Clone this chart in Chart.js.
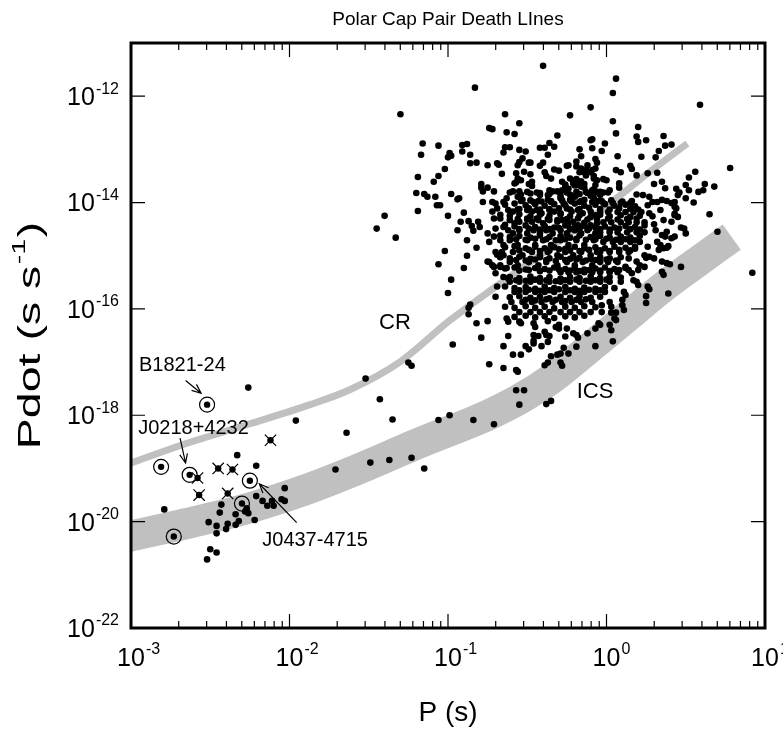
<!DOCTYPE html>
<html>
<head>
<meta charset="utf-8">
<script src="https://cdn.jsdelivr.net/npm/chart.js@4.4.0/dist/chart.umd.min.js"></script>
<style>
  html, body { margin: 0; padding: 0; background: #fff; }
</style>
</head>
<body>
<canvas id="ppdot" width="783" height="734"></canvas>
<script>
// values, stored as [log10 P, log10 Pdot]
const lowPeriodField = [
  [-2.26,-17.48],[-1.96,-18.10],[-2.33,-18.75],[-2.21,-18.95],[-2.79,-19.77],[-2.43,-19.68],[-2.21,-19.52],[-2.17,-19.61],
  [-2.11,-19.61],[-2.10,-19.70],[-2.14,-19.70],[-2.05,-19.58],[-2.03,-19.61],[-2.03,-19.37],[-2.27,-19.75],[-2.26,-19.84],
  [-2.28,-19.81],[-2.44,-19.83],[-2.34,-19.86],[-2.32,-19.99],[-2.22,-19.97],[-2.51,-20.01],[-2.46,-20.08],[-2.39,-20.04],
  [-2.34,-20.06],[-2.40,-20.14],[-2.46,-20.22],[-2.50,-20.52],[-2.46,-20.58],[-2.52,-20.71]
];

const middleField = [
  [-1.40,-14.25],[-1.45,-14.49],[-1.33,-14.66],[-1.30,-12.34],[-1.25,-17.01],[-1.23,-17.07],[-1.52,-17.31],[-1.43,-17.70],
  [-1.35,-18.08],[-1.64,-18.33],[-1.06,-18.09],[-0.99,-18.00],[-1.71,-19.02],[-1.49,-18.89],[-1.37,-18.84],[-1.23,-18.80],
  [-1.15,-19.00],[-1.02,-14.91],[-1.06,-15.16],[-0.98,-15.45],[-1.00,-15.70],[-1.19,-14.16],[-1.20,-13.82],[-1.15,-13.84],
  [-1.13,-13.89],[-1.08,-13.89],[-1.19,-13.52],[-1.17,-13.10],[-1.16,-12.89],[-1.06,-12.93],[-1.06,-13.50],[-1.09,-13.61],
  [-1.02,-13.37],[-0.99,-13.07],[-0.98,-13.12],[-1.00,-13.15],[-1.07,-14.05],[-1.05,-14.05],[-1.00,-14.25],[-0.94,-13.94],
  [-0.91,-12.92],[-0.88,-12.90],[-0.91,-13.04],[-0.86,-13.10]
];

const upperCluster = [
  [-0.83,-11.84],[-0.40,-11.43],[-0.64,-12.34],[-0.55,-12.51],[-0.74,-12.60],[-0.72,-12.62],[-0.63,-12.68],[-0.58,-12.71],
  [-0.31,-12.74],[-0.64,-12.96],[-0.61,-12.96],[-0.42,-12.97],[-0.39,-12.97],[-0.36,-12.88],[-0.33,-12.95],[-0.65,-13.06],
  [-0.55,-13.01],[-0.51,-13.04],[-0.37,-13.10],[-0.53,-13.17],[-0.86,-13.26],[-0.82,-13.25],[-0.75,-13.30],[-0.69,-13.26],
  [-0.68,-13.29],[-0.56,-13.30],[-0.55,-13.24],[-0.49,-13.25],[-0.48,-13.25],[-0.42,-13.31],[-0.40,-13.25],[-0.33,-13.38],
  [-0.30,-13.40],[-0.66,-13.46],[-0.57,-13.45],[-0.56,-13.55],[-0.57,-13.62],[-0.52,-13.42],[-0.48,-13.47],[-0.39,-13.43],
  [-0.38,-13.50],[-0.47,-13.61],[-0.49,-13.65],[-0.79,-13.65],[-0.79,-13.72],[-0.78,-13.79],[-0.75,-13.72],[-0.71,-13.79],
  [-0.98,-13.84],[-0.93,-13.92],[-0.61,-13.81],[-0.59,-13.79],[-0.55,-13.79],[-0.54,-13.85],[-0.48,-13.83],[-0.42,-13.82],
  [-0.37,-13.86],[-0.34,-13.79],
  [0.06,-11.67],[0.04,-11.94],[0.59,-12.16],[-0.10,-12.21],[-0.23,-12.36],[0.04,-12.47],[0.20,-12.58],[0.06,-12.70],
  [0.19,-12.76],[0.20,-12.86],[0.25,-12.83],[0.36,-12.75],[-0.09,-12.81],[-0.01,-12.89],[0.37,-12.93],[0.41,-12.91],
  [-0.17,-13.00],[-0.03,-13.03],[0.33,-13.03],[-0.16,-13.13],[-0.07,-13.18],[0.07,-13.13],[0.22,-13.14],[0.31,-13.15],
  [0.78,-13.35],[-0.25,-13.31],[-0.24,-13.30],[-0.19,-13.23],[-0.19,-13.32],[-0.12,-13.30],[-0.13,-13.39],[-0.07,-13.36],
  [0.06,-13.39],[0.09,-13.43],[0.15,-13.31],[0.16,-13.37],[0.26,-13.45],[0.32,-13.44],[0.19,-13.49],[0.56,-13.42],
  [0.52,-13.53],[-0.17,-13.43],[-0.15,-13.42],[-0.10,-13.43],[-0.08,-13.50],[-0.19,-13.56],[-0.16,-13.60],[-0.02,-13.56],
  [0.00,-13.58],[0.08,-13.64],[0.08,-13.72],[0.30,-13.65],[0.35,-13.61],[0.37,-13.73],[0.50,-13.67],[0.62,-13.65],
  [0.68,-13.70],[0.44,-13.74],[0.46,-13.81],[0.45,-13.86],[0.52,-13.77],[0.58,-13.80],[0.61,-13.77],[-0.28,-13.61],
  [-0.26,-13.69],[-0.24,-13.74],[-0.28,-13.77],[-0.14,-13.72],[-0.13,-13.80],[-0.08,-13.75],[-0.08,-13.83],[-0.04,-13.80],
  [-0.02,-13.81],[0.02,-13.77],[0.19,-13.85],[0.23,-13.86],[0.27,-13.89],[-0.19,-13.86],[-0.20,-13.89],
  [-0.10,-12.83],[-0.09,-12.98],[-0.16,-13.36],[-0.09,-13.39],[-0.06,-13.25],[-0.13,-13.49],[-0.35,-13.55],[-0.23,-13.55],
  [-0.21,-13.58],[-0.08,-13.55],[-0.06,-13.58],[-0.58,-13.64],[-0.54,-13.58],[-0.47,-13.69],[-0.36,-13.77],[-0.21,-13.64],
  [-0.18,-13.67],[-0.16,-13.70],[-0.09,-13.77]
];

const denseCore = [
  [-0.63,-13.92],[-0.65,-13.99],[-0.56,-13.89],[-0.53,-13.95],[-0.46,-13.99],[-0.43,-13.97],[-0.37,-13.95],[-0.35,-13.99],
  [-0.29,-13.92],[-0.27,-14.02],[-0.23,-13.95],[-0.17,-13.99],[-0.14,-13.95],[-0.08,-13.92],[-0.05,-13.97],
  [-0.70,-14.02],[-0.69,-14.11],[-0.72,-14.17],[-0.62,-14.14],[-0.59,-14.17],[-0.56,-14.13],[-0.50,-14.14],[-0.47,-14.17],
  [-0.44,-14.14],[-0.41,-14.20],[-0.36,-14.14],[-0.33,-14.17],[-0.29,-14.20],[-0.25,-14.11],[-0.22,-14.17],[-0.18,-14.14],
  [-0.15,-14.20],[-0.10,-14.17],[-0.07,-14.24],
  [-0.71,-14.30],[-0.65,-14.46],[-0.61,-14.33],[-0.58,-14.39],[-0.55,-14.36],[-0.50,-14.30],[-0.47,-14.36],[-0.43,-14.33],
  [-0.40,-14.39],[-0.36,-14.33],[-0.31,-14.36],[-0.28,-14.33],[-0.24,-14.39],[-0.21,-14.36],[-0.18,-14.43],[-0.14,-14.38],
  [-0.10,-14.43],[-0.06,-14.39],
  [-0.62,-14.52],[-0.59,-14.58],[-0.55,-14.52],[-0.50,-14.58],[-0.46,-14.52],[-0.42,-14.58],[-0.38,-14.52],[-0.34,-14.58],
  [-0.29,-14.52],[-0.25,-14.58],[-0.20,-14.52],[-0.16,-14.58],[-0.12,-14.52],[-0.07,-14.58],[-0.88,-14.71],
  [-0.67,-14.71],[-0.65,-14.80],[-0.61,-14.71],[-0.56,-14.80],[-0.50,-14.71],[-0.45,-14.80],[-0.40,-14.71],[-0.35,-14.80],
  [-0.29,-14.71],[-0.24,-14.80],[-0.19,-14.71],[-0.14,-14.80],[-0.08,-14.71],
  [-0.70,-14.93],[-0.65,-14.99],[-0.59,-14.93],[-0.53,-14.99],[-0.47,-14.93],[-0.42,-14.99],[-0.37,-14.93],[-0.31,-14.99],
  [-0.26,-14.93],[-0.21,-14.99],[-0.16,-14.93],[-0.10,-14.99],[-0.06,-14.93],
  [-0.74,-15.12],[-0.67,-15.18],[-0.61,-15.12],[-0.56,-15.18],[-0.49,-15.12],[-0.43,-15.18],[-0.38,-15.12],[-0.31,-15.18],
  [-0.25,-15.12],[-0.20,-15.18],[-0.15,-15.12],[-0.09,-15.18],
  [-0.02,-14.01],[0.04,-14.01],[0.09,-14.01],[0.15,-14.01],
  [-0.04,-14.18],[0.01,-14.18],[0.07,-14.18],[0.12,-14.18],[0.17,-14.18],[0.22,-14.18],
  [-0.02,-14.37],[0.03,-14.37],[0.09,-14.37],[0.14,-14.37],[0.19,-14.37],[0.24,-14.37],
  [-0.04,-14.56],[0.02,-14.56],[0.07,-14.56],[0.13,-14.56],[0.19,-14.56],[0.24,-14.56],
  [-0.02,-14.74],[0.04,-14.74],[0.09,-14.74],[0.15,-14.74],[0.21,-14.74],
  [-0.04,-14.93],[0.02,-14.93],[0.08,-14.93],[0.14,-14.93],
  [-0.04,-15.12],[0.01,-15.12],[0.07,-15.12],[-0.04,-15.31],[0.02,-15.31],[0.07,-15.31],
  [-0.29,-15.31],[-0.24,-15.31],[-0.19,-15.31],[-0.14,-15.31],[-0.09,-15.31],
  [-0.61,-15.49],[-0.55,-15.49],[-0.48,-15.49],[-0.42,-15.49],[-0.36,-15.49],[-0.29,-15.49],[-0.23,-15.49],[-0.17,-15.49],
  [-0.10,-15.49],[-0.04,-15.49],[0.02,-15.49],[0.09,-15.49],
  [-0.58,-15.68],[-0.51,-15.68],[-0.45,-15.68],[-0.39,-15.68],[-0.33,-15.68],[-0.26,-15.68],[-0.20,-15.68],[-0.14,-15.68],
  [-0.07,-15.68],[-0.01,-15.68],
  [-0.60,-15.87],[-0.53,-15.87],[-0.47,-15.87],[-0.41,-15.87],[-0.34,-15.87],[-0.28,-15.87],[-0.22,-15.87],[-0.16,-15.87],
  [-0.09,-15.87],
  [-0.55,-16.06],[-0.48,-16.06],[-0.42,-16.06],[-0.36,-16.06],[-0.29,-16.06],[-0.23,-16.06],[-0.17,-16.06],[-0.10,-16.06],
  [-0.03,-16.06]
];

// the solid black middle of the cloud, where single dots cannot be told apart
const coreInfill = [
  [-0.26,-13.66],[-0.20,-13.68],[-0.14,-13.65],[-0.07,-13.67],
  [-0.42,-13.86],[-0.36,-13.84],[-0.29,-13.87],[-0.23,-13.85],[-0.17,-13.84],[-0.10,-13.87],[-0.04,-13.86],
  [-0.64,-14.04],[-0.58,-14.02],[-0.51,-14.05],[-0.45,-14.03],[-0.39,-14.06],[-0.33,-14.03],[-0.26,-14.05],[-0.20,-14.02],
  [-0.14,-14.06],[-0.07,-14.04],[-0.01,-14.03],[0.05,-14.06],[0.12,-14.04],[0.18,-14.07],
  [-0.67,-14.23],[-0.61,-14.25],[-0.55,-14.22],[-0.48,-14.26],[-0.42,-14.23],[-0.36,-14.25],[-0.29,-14.22],[-0.23,-14.26],
  [-0.17,-14.24],[-0.10,-14.27],[-0.04,-14.23],[0.02,-14.26],[0.09,-14.24],[0.15,-14.27],[0.21,-14.25],
  [-0.64,-14.42],[-0.58,-14.45],[-0.51,-14.43],[-0.45,-14.46],[-0.39,-14.44],[-0.33,-14.47],[-0.26,-14.43],[-0.20,-14.46],
  [-0.14,-14.44],[-0.07,-14.47],[-0.01,-14.45],[0.05,-14.47],[0.12,-14.44],[0.18,-14.46],[0.24,-14.43],
  [-0.67,-14.62],[-0.61,-14.65],[-0.55,-14.63],[-0.48,-14.66],[-0.42,-14.62],[-0.36,-14.65],[-0.29,-14.63],[-0.23,-14.66],
  [-0.17,-14.62],[-0.10,-14.65],[-0.04,-14.63],[0.02,-14.66],[0.09,-14.64],[0.15,-14.66],[0.21,-14.63],
  [-0.64,-14.84],[-0.58,-14.82],[-0.51,-14.86],[-0.45,-14.83],[-0.39,-14.86],[-0.33,-14.84],[-0.26,-14.87],[-0.20,-14.83],
  [-0.14,-14.86],[-0.07,-14.84],[-0.01,-14.86],[0.05,-14.83],[0.12,-14.85],[0.18,-14.87],
  [-0.67,-15.03],[-0.61,-15.05],[-0.55,-15.02],[-0.48,-15.06],[-0.42,-15.03],[-0.36,-15.05],[-0.29,-15.02],[-0.23,-15.06],
  [-0.17,-15.04],[-0.10,-15.06],[-0.04,-15.03],[0.02,-15.05],[0.09,-15.03],
  [-0.64,-15.24],[-0.58,-15.22],[-0.51,-15.26],[-0.45,-15.23],[-0.39,-15.25],[-0.33,-15.22],[-0.26,-15.25],[-0.20,-15.23],
  [-0.14,-15.26],[-0.07,-15.24],[-0.01,-15.22],[0.05,-15.25],[0.12,-15.23],
  [-0.61,-15.40],[-0.55,-15.42],[-0.48,-15.39],[-0.42,-15.42],[-0.36,-15.40],[-0.29,-15.43],[-0.23,-15.40],[-0.17,-15.42],
  [-0.10,-15.39],[-0.04,-15.42],[0.02,-15.40],[0.09,-15.41],
  [-0.64,-15.58],[-0.58,-15.61],[-0.51,-15.59],[-0.45,-15.62],[-0.39,-15.58],[-0.33,-15.61],[-0.26,-15.59],[-0.20,-15.62],
  [-0.14,-15.60],[-0.07,-15.62],[-0.01,-15.59],[0.05,-15.61],
  [-0.61,-15.78],[-0.55,-15.76],[-0.48,-15.79],[-0.42,-15.77],[-0.36,-15.80],[-0.29,-15.77],[-0.23,-15.79],[-0.17,-15.76],
  [-0.10,-15.79],[-0.04,-15.77],
  [-0.64,-15.96],[-0.58,-15.98],[-0.51,-15.95],[-0.45,-15.98],[-0.39,-15.96],[-0.33,-15.99],[-0.26,-15.96],[-0.20,-15.98],
  [-0.14,-15.95],[-0.07,-15.97],
  [-0.58,-16.15],[-0.51,-16.13],[-0.45,-16.16],[-0.39,-16.14],[-0.33,-16.17],[-0.26,-16.14],[-0.20,-16.16],[-0.14,-16.13]
];

// second pass over the blackest part of the core
const coreCentre = [
  [-0.50,-13.80],[-0.44,-13.81],[-0.31,-13.79],[-0.25,-13.81],[-0.19,-13.80],[-0.12,-13.82],[-0.06,-13.80],[0.01,-13.81],
  [-0.54,-13.97],[-0.48,-13.96],[-0.41,-13.98],[-0.35,-13.97],[-0.28,-13.96],[-0.22,-13.98],[-0.16,-13.97],[-0.09,-13.99],
  [-0.03,-13.97],[0.03,-13.96],[0.10,-13.98],[0.16,-13.97],
  [-0.55,-14.12],[-0.49,-14.11],[-0.42,-14.13],[-0.36,-14.12],[-0.30,-14.11],[-0.23,-14.13],[-0.17,-14.12],[-0.11,-14.10],
  [-0.04,-14.12],[0.02,-14.13],[0.08,-14.11],[0.15,-14.12],[0.20,-14.13],
  [-0.56,-14.31],[-0.50,-14.32],[-0.44,-14.30],[-0.37,-14.31],[-0.31,-14.33],[-0.25,-14.31],[-0.18,-14.30],[-0.12,-14.32],
  [-0.06,-14.31],[0.01,-14.30],[0.07,-14.32],[0.13,-14.31],[0.19,-14.30],
  [-0.55,-14.50],[-0.49,-14.49],[-0.42,-14.51],[-0.36,-14.50],[-0.30,-14.48],[-0.23,-14.50],[-0.17,-14.51],[-0.11,-14.49],
  [-0.04,-14.50],[0.02,-14.51],[0.08,-14.49],[0.15,-14.50],[0.21,-14.51],
  [-0.57,-14.69],[-0.51,-14.70],[-0.45,-14.68],[-0.38,-14.69],[-0.32,-14.71],[-0.26,-14.69],[-0.19,-14.68],[-0.13,-14.70],
  [-0.07,-14.69],[0.00,-14.68],[0.06,-14.70],[0.12,-14.69],[0.18,-14.71],
  [-0.55,-14.90],[-0.49,-14.89],[-0.42,-14.91],[-0.36,-14.90],[-0.30,-14.88],[-0.23,-14.90],[-0.17,-14.91],[-0.11,-14.89],
  [-0.04,-14.90],[0.02,-14.91],[0.08,-14.89],[0.15,-14.90],
  [-0.57,-15.08],[-0.51,-15.09],[-0.45,-15.07],[-0.38,-15.08],[-0.32,-15.10],[-0.26,-15.08],[-0.19,-15.07],[-0.13,-15.09],
  [-0.07,-15.08],[0.00,-15.07],[0.06,-15.09],
  [-0.55,-15.28],[-0.49,-15.27],[-0.42,-15.29],[-0.36,-15.28],[-0.30,-15.26],[-0.23,-15.28],[-0.17,-15.29],[-0.11,-15.27],
  [-0.04,-15.28],[0.02,-15.29],[0.08,-15.27],
  [-0.57,-15.46],[-0.51,-15.47],[-0.45,-15.45],[-0.38,-15.46],[-0.32,-15.48],[-0.26,-15.46],[-0.19,-15.45],[-0.13,-15.47],
  [-0.07,-15.46],[0.00,-15.45],
  [-0.55,-15.65],[-0.49,-15.64],[-0.42,-15.66],[-0.36,-15.65],[-0.30,-15.63],[-0.23,-15.65],[-0.17,-15.66],[-0.11,-15.64],
  [-0.04,-15.65],
  [-0.51,-15.83],[-0.45,-15.84],[-0.38,-15.82],[-0.32,-15.83],[-0.26,-15.85],[-0.19,-15.83],[-0.13,-15.82]
];

const lowerCluster = [
  [-0.90,-14.19],[-0.92,-14.36],[-0.87,-14.35],[-0.85,-14.44],[-0.81,-14.36],[-0.80,-14.46],[-0.94,-14.52],[-0.84,-14.53],
  [-0.78,-13.99],[-0.72,-13.99],[-0.70,-14.49],[-0.67,-14.30],[-0.75,-14.58],[-0.71,-14.64],[-0.74,-14.74],[-0.82,-14.85],
  [-0.88,-15.00],[-0.90,-15.23],[-0.69,-14.98],[-0.67,-15.02],[-0.66,-14.93],[-0.75,-15.11],[-0.72,-15.18],[-0.71,-15.21],
  [-0.67,-15.21],[-0.63,-15.23],[-0.70,-15.33],[-0.65,-15.40],[-0.62,-15.43],[-0.69,-15.58],[-0.70,-15.77],[-0.86,-15.92],
  [-0.87,-15.98],[-0.87,-16.10],[-0.82,-16.27],[-0.75,-16.23],[-0.63,-16.18],
  [-0.97,-16.67],[-0.79,-16.54],[-0.62,-16.51],[-0.65,-16.70],[-0.59,-16.86],[-0.54,-16.86],[-0.74,-17.04],[-0.65,-17.11],
  [-0.57,-17.15],[-0.56,-17.18],[-0.57,-17.53],[-0.52,-17.53],[-0.55,-17.80],[-0.38,-17.79],[-0.35,-17.73],[-0.84,-18.09],
  [-0.71,-18.17],[-0.39,-17.06],[-0.37,-17.01],[-0.29,-17.01],[-0.28,-17.07],[-0.35,-16.89],[-0.31,-16.86],[-0.29,-16.84],
  [-0.24,-16.84],[-0.27,-16.73],[-0.19,-16.71],[-0.18,-16.54],[-0.07,-16.70],[-0.12,-16.46],[-0.07,-16.37],[-0.51,-16.70],
  [-0.49,-16.76],[-0.46,-16.65],[-0.46,-16.60],[-0.41,-16.70],[-0.37,-16.62],[-0.46,-16.49],[-0.43,-16.51],[-0.39,-16.43],
  [-0.38,-16.49],[-0.36,-16.51],[-0.32,-16.34],[-0.30,-16.37],[-0.25,-16.37],[-0.26,-16.52],[-0.21,-16.46],[-0.19,-16.49],
  [-0.62,-16.24],[-0.55,-16.24],[-0.54,-16.27],[-0.46,-16.27],[-0.45,-16.34],[-0.37,-16.23],[-0.30,-16.30]
];

const rightCluster = [
  [0.70,-14.55],[0.38,-15.14],[0.40,-15.16],[0.35,-15.30],[0.36,-15.36],[0.47,-15.21],[0.26,-15.58],[0.27,-15.63],
  [0.25,-15.76],[0.25,-15.89],[0.39,-15.71],[0.20,-15.55],[0.11,-15.68],[0.12,-15.74],[0.10,-15.83],[0.10,-15.93],
  [0.11,-16.02],[0.06,-16.07],[0.03,-16.07],[0.05,-16.18],[0.06,-16.21],[0.02,-16.30],[0.03,-16.40],[0.04,-16.61],
  [-0.04,-16.30],[0.17,-15.46],[0.19,-15.49],[0.02,-15.87],[0.03,-15.96],[-0.03,-15.93],[0.14,-15.27],[0.16,-15.33],
  [0.21,-15.18],[0.24,-15.21],[0.27,-15.02],[0.30,-15.05],[0.33,-14.89],[0.36,-14.86],[0.41,-14.67],[0.43,-14.64],
  [0.50,-14.58],[0.92,-15.32],[0.55,-14.00],[0.65,-14.22],[0.43,-13.99],[0.49,-14.49],[0.38,-14.85],[0.34,-14.14],
  [0.43,-14.21],[0.45,-14.27],[-0.05,-16.27],
  [0.29,-13.99],[0.32,-13.99],[0.35,-13.95],[0.38,-13.97],[0.41,-14.01],[0.43,-14.08],[0.44,-14.11],[0.50,-13.92],
  [0.26,-14.05],[0.43,-14.24],[0.27,-14.20],[0.29,-14.26],[0.36,-14.33],[0.41,-14.36],[0.47,-14.47],[0.38,-14.55],
  [0.30,-14.41],[0.31,-14.52],[0.35,-14.61],[0.37,-14.64],[0.32,-14.74],[0.34,-14.80],[0.39,-14.82],[0.26,-14.83],
  [0.18,-14.83],[0.24,-14.99],[0.25,-15.04],[0.35,-15.11],[0.19,-15.11],[0.14,-15.05],[0.12,-15.21],[0.20,-15.27]
];

// millisecond pulsars drawn with a ring, and the ones drawn with a cross
const ringedPulsars = [[-2.52,-17.80],[-2.81,-18.97],[-2.63,-19.12],[-2.25,-19.23],[-2.30,-19.66],[-2.73,-20.28]];
const crossedPulsars = [[-2.12,-18.47],[-2.58,-19.18],[-2.45,-19.00],[-2.36,-19.02],[-2.57,-19.50],[-2.39,-19.47]];

// death line bands, centre lines as [log10 P, log10 Pdot]
const crLine = [[-3.02,-18.92],[-2.67,-18.55],[-2.25,-18.16],[-1.87,-17.80],[-1.62,-17.52],[-1.30,-16.99],
  [-0.99,-16.22],[-0.67,-15.52],[-0.34,-14.82],[-0.01,-14.09],[0.27,-13.43],[0.51,-12.89]];
const icsLine = [[-3.03,-20.29],[-2.57,-19.98],[-2.25,-19.74],[-1.87,-19.37],[-1.62,-19.08],[-1.18,-18.52],
  [-0.75,-18.00],[-0.55,-17.70],[-0.34,-17.30],[-0.17,-16.89],[-0.04,-16.57],[0.15,-16.10],[0.34,-15.63],
  [0.59,-15.08],[0.79,-14.65]];

const xTickExps = [-3, -2, -1, 0, 1];
const yTickExps = [-22, -20, -18, -16, -14, -12];

const callouts = [
  { name: 'B1821-24', label: [2.11e-3, 8.8e-18], tail: [2.21e-3, 4.5e-18], head: [2.77e-3, 2.6e-18] },
  { name: 'J0218+4232', label: [2.48e-3, 5.6e-19], tail: [2.04e-3, 3.7e-19], head: [2.21e-3, 1.26e-19] },
  { name: 'J0437-4715', label: [1.45e-2, 4.5e-21], tail: [1.11e-2, 9.6e-21], head: [6.45e-3, 5.15e-20] }
];
const bandNames = [{ name: 'CR', at: [0.0463, 5.4e-17] }, { name: 'ICS', at: [0.846, 2.77e-18] }];

const FONT = '"Liberation Sans", Arial, sans-serif';
const toXY = arr => arr.map(([lp, lpd]) => ({ x: Math.pow(10, lp), y: Math.pow(10, lpd) }));

function powerLabel(ctx, x, y, exp, size, align) {
  const sup = Math.round(size * 0.64);
  ctx.font = size + 'px ' + FONT;
  const bw = ctx.measureText('10').width;
  ctx.font = sup + 'px ' + FONT;
  const sw = ctx.measureText(String(exp)).width;
  const x0 = align === 'right' ? x - bw - sw - 1 : x - bw / 2;
  ctx.textAlign = 'left';
  ctx.textBaseline = 'middle';
  ctx.font = size + 'px ' + FONT;
  ctx.fillText('10', x0, y);
  ctx.font = sup + 'px ' + FONT;
  ctx.fillText(String(exp), x0 + bw + 1, y - size * 0.36);
}

function arrow(ctx, x1, y1, x2, y2) {
  const ang = Math.atan2(y2 - y1, x2 - x1), h = 10;
  ctx.beginPath();
  ctx.moveTo(x1, y1);
  ctx.lineTo(x2, y2);
  ctx.moveTo(x2 - h * Math.cos(ang - 0.4), y2 - h * Math.sin(ang - 0.4));
  ctx.lineTo(x2, y2);
  ctx.lineTo(x2 - h * Math.cos(ang + 0.4), y2 - h * Math.sin(ang + 0.4));
  ctx.stroke();
}

const decor = {
  id: 'decor',
  afterDraw(chart) {
    const { ctx, chartArea: a } = chart;
    const sx = chart.scales.x, sy = chart.scales.y;
    const px = v => sx.getPixelForValue(v), py = v => sy.getPixelForValue(v);
    ctx.save();
    ctx.fillStyle = '#000';
    ctx.strokeStyle = '#000';

    // inward ticks
    ctx.lineWidth = 1.2;
    ctx.beginPath();
    xTickExps.forEach((e, i) => {
      const x = px(Math.pow(10, e));
      ctx.moveTo(x, a.bottom); ctx.lineTo(x, a.bottom - 14);
      ctx.moveTo(x, a.top); ctx.lineTo(x, a.top + 14);
      if (i < xTickExps.length - 1) {
        for (let m = 2; m <= 9; m++) {
          const xm = px(m * Math.pow(10, e));
          ctx.moveTo(xm, a.bottom); ctx.lineTo(xm, a.bottom - 7);
          ctx.moveTo(xm, a.top); ctx.lineTo(xm, a.top + 7);
        }
      }
    });
    yTickExps.forEach(e => {
      const y = py(Math.pow(10, e));
      ctx.moveTo(a.left, y); ctx.lineTo(a.left + 14, y);
      ctx.moveTo(a.right, y); ctx.lineTo(a.right - 14, y);
    });
    ctx.stroke();

    // frame
    ctx.lineWidth = 3;
    ctx.strokeRect(a.left, a.top, a.right - a.left, a.bottom - a.top);

    // tick labels
    xTickExps.forEach(e => powerLabel(ctx, px(Math.pow(10, e)), a.bottom + 31, e, 25, 'center'));
    yTickExps.forEach(e => powerLabel(ctx, a.left - 12, py(Math.pow(10, e)) + 2, e, 25, 'right'));

    // titles
    ctx.textAlign = 'center';
    ctx.textBaseline = 'middle';
    ctx.font = '19px ' + FONT;
    ctx.fillText('Polar Cap Pair Death LInes', (a.left + a.right) / 2, 20);
    ctx.font = '28px ' + FONT;
    ctx.fillText('P (s)', (a.left + a.right) / 2, 713);

    // y title with superscript, rotated and drawn tall as in the original
    ctx.save();
    ctx.translate(31, (a.top + a.bottom) / 2);
    ctx.rotate(-Math.PI / 2);
    ctx.scale(1.5, 1);
    ctx.font = '31px ' + FONT;
    const w1 = ctx.measureText('Pdot (s s').width;
    const w3 = ctx.measureText(')').width;
    ctx.font = '19px ' + FONT;
    const w2 = ctx.measureText('-1').width;
    const x0 = -(w1 + w2 + w3 + 2) / 2;
    ctx.textAlign = 'left';
    ctx.font = '31px ' + FONT;
    ctx.fillText('Pdot (s s', x0, 0);
    ctx.font = '19px ' + FONT;
    ctx.fillText('-1', x0 + w1 + 1, -11);
    ctx.font = '31px ' + FONT;
    ctx.fillText(')', x0 + w1 + w2 + 2, 0);
    ctx.restore();

    // band names and pulsar callouts
    ctx.textAlign = 'center';
    ctx.font = '22px ' + FONT;
    bandNames.forEach(b => ctx.fillText(b.name, px(b.at[0]), py(b.at[1])));
    ctx.font = '20px ' + FONT;
    ctx.lineWidth = 1.2;
    callouts.forEach(c => {
      ctx.fillText(c.name, px(c.label[0]), py(c.label[1]));
      arrow(ctx, px(c.tail[0]), py(c.tail[1]), px(c.head[0]), py(c.head[1]));
    });
    ctx.restore();
  }
};

const ordinary = [].concat(lowPeriodField, middleField, upperCluster, denseCore, coreInfill, coreCentre,
  lowerCluster, rightCluster);

new Chart(document.getElementById('ppdot'), {
  type: 'scatter',
  data: {
    datasets: [
      { label: 'centres', data: toXY(ringedPulsars.concat(crossedPulsars)),
        pointRadius: 3.2, pointBackgroundColor: '#000', pointBorderWidth: 0 },
      { label: 'rings', data: toXY(ringedPulsars), pointStyle: 'circle', pointRadius: 7.5,
        pointBackgroundColor: 'rgba(0,0,0,0)', pointBorderColor: '#000', pointBorderWidth: 1.2 },
      { label: 'crosses', data: toXY(crossedPulsars), pointStyle: 'crossRot', pointRadius: 8,
        pointBorderColor: '#000', pointBorderWidth: 1.2 },
      { label: 'pulsars', data: toXY(ordinary), pointRadius: 3.3,
        pointBackgroundColor: '#000', pointBorderWidth: 0 },
      { label: 'CR', data: toXY(crLine), showLine: true, pointRadius: 0, borderColor: '#c0c0c0',
        borderWidth: 7, cubicInterpolationMode: 'monotone', borderCapStyle: 'butt',
        borderJoinStyle: 'round', clip: 0 },
      { label: 'ICS', data: toXY(icsLine), showLine: true, pointRadius: 0, borderColor: '#c0c0c0',
        borderWidth: 31, cubicInterpolationMode: 'monotone', borderCapStyle: 'butt',
        borderJoinStyle: 'round', clip: 0 }
    ]
  },
  options: {
    responsive: false,
    animation: false,
    events: [],
    layout: { padding: { left: 131, right: 18, top: 43, bottom: 106 } },
    plugins: { legend: { display: false }, tooltip: { enabled: false } },
    scales: {
      x: { type: 'logarithmic', min: 1e-3, max: 10, display: false },
      y: { type: 'logarithmic', min: 1e-22, max: 1e-11, display: false }
    }
  },
  plugins: [decor]
});
</script>
</body>
</html>
